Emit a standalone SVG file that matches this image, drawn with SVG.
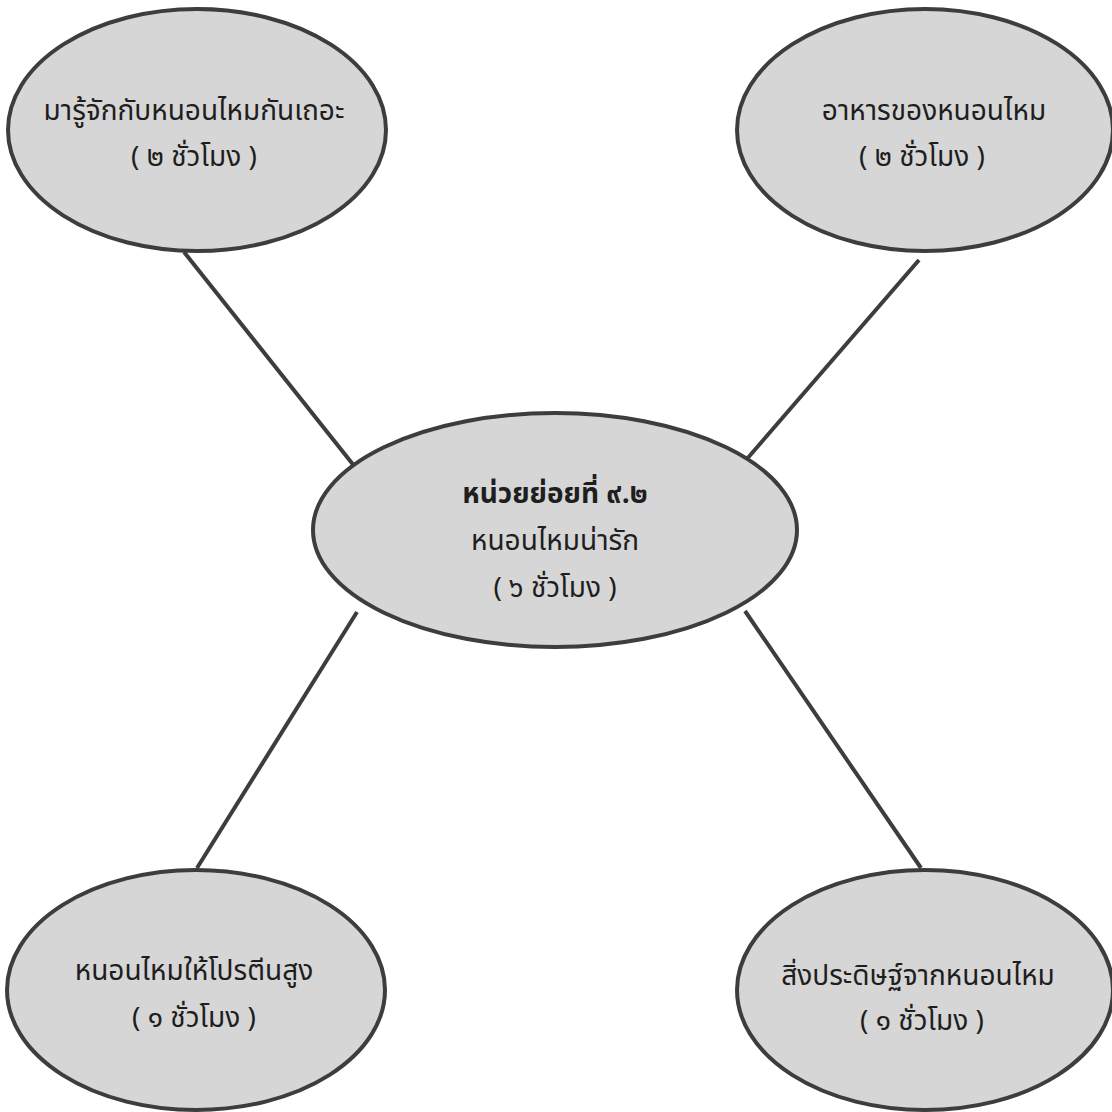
<svg xmlns="http://www.w3.org/2000/svg" width="1112" height="1112" viewBox="0 0 1112 1112">
<style>
.node{fill:#d6d6d6;stroke:#3d3d3d;stroke-width:4}
.conn{stroke:#3d3d3d;stroke-width:4;fill:none}
text{font-family:"Noto Sans Thai","Noto Sans","DejaVu Sans",sans-serif;font-size:28px;fill:#1e1e1e;text-anchor:middle}
.b{font-weight:bold}
</style>
<rect width="1112" height="1112" fill="#ffffff"/>
<g id="connectors">
<line class="conn" x1="184" y1="252" x2="355" y2="467"/>
<line class="conn" x1="919" y1="260" x2="746" y2="460"/>
<line class="conn" x1="357" y1="612" x2="197" y2="868"/>
<line class="conn" x1="745" y1="611" x2="921" y2="868"/>
</g>
<g id="n-top-left">
<ellipse class="node" cx="197" cy="130" rx="189" ry="121"/>
<text x="194" y="120">มารู้จักกับหนอนไหมกันเถอะ</text>
<text x="194" y="166">( ๒ ชั่วโมง )</text>
</g>
<g id="n-top-right">
<ellipse class="node" cx="925" cy="130" rx="188" ry="121"/>
<text x="934" y="120">อาหารของหนอนไหม</text>
<text x="922" y="166">( ๒ ชั่วโมง )</text>
</g>
<g id="n-center">
<ellipse class="node" cx="555" cy="530" rx="242" ry="117"/>
<text class="b" x="555" y="503">หน่วยย่อยที่ ๙.๒</text>
<text x="555" y="550">หนอนไหมน่ารัก</text>
<text x="555" y="597">( ๖ ชั่วโมง )</text>
</g>
<g id="n-bottom-left">
<ellipse class="node" cx="196" cy="990" rx="189" ry="120"/>
<text x="194" y="980">หนอนไหมให้โปรตีนสูง</text>
<text x="194" y="1027">( ๑ ชั่วโมง )</text>
</g>
<g id="n-bottom-right">
<ellipse class="node" cx="925" cy="990" rx="188" ry="120"/>
<text x="918" y="985">สิ่งประดิษฐ์จากหนอนไหม</text>
<text x="922" y="1030">( ๑ ชั่วโมง )</text>
</g>
</svg>
